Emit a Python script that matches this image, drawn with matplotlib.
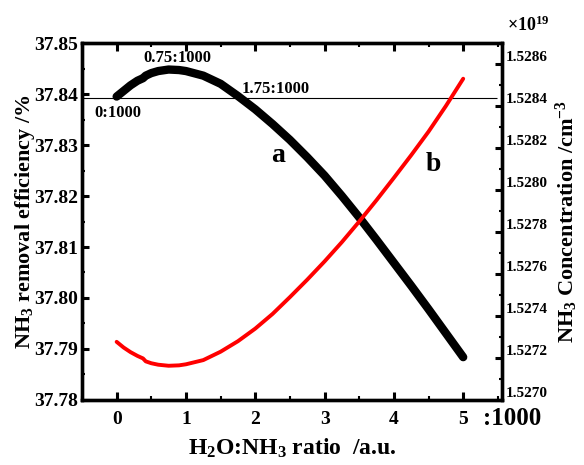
import matplotlib
matplotlib.use("Agg")
import matplotlib.pyplot as plt
from matplotlib.ticker import MultipleLocator, FormatStrFormatter
import matplotlib.transforms as mtransforms

plt.rcParams['font.family'] = ['Liberation Serif', 'DejaVu Serif']
plt.rcParams['font.weight'] = 'bold'
plt.rcParams['axes.labelweight'] = 'bold'
plt.rcParams['mathtext.default'] = 'regular'

# H2O:NH3 ratio (x 1/1000)
ratio = [0, 0.1, 0.2, 0.3, 0.38, 0.42, 0.5, 0.6, 0.75, 0.9, 1.0, 1.25, 1.5, 1.75,
         2.0, 2.25, 2.5, 2.75, 3.0, 3.25, 3.5, 3.75, 4.0, 4.25, 4.5, 4.75, 5.0]
# a: NH3 removal efficiency /%
efficiency = [37.8395, 37.8406, 37.8417, 37.8426, 37.8431, 37.8436, 37.8441, 37.8445,
              37.8448, 37.8447, 37.8445, 37.8436, 37.8420, 37.8396,
              37.8370, 37.8341, 37.8310, 37.8276, 37.8240, 37.8200, 37.8158,
              37.8114, 37.8069, 37.8024, 37.7978, 37.7931, 37.7884]
# b: NH3 concentration /cm^-3 (x 1e19)
concentration = [1.527277, 1.527250, 1.527228, 1.527210, 1.527198, 1.527184, 1.527175, 1.527168,
                 1.527163, 1.527165, 1.527170, 1.527190, 1.527230, 1.527280,
                 1.527340, 1.527410, 1.527490, 1.527573, 1.527660, 1.527752, 1.527850,
                 1.527952, 1.528058, 1.528166, 1.528278, 1.528400, 1.528530]

ref_efficiency = 37.8392
ref_line_end = 5.49

fig = plt.figure(figsize=(5.84, 4.65), dpi=100)
ax = fig.add_axes([0.1404, 0.1398, 0.7192, 0.7677])
ax2 = ax.twinx()

ax.plot(ratio, efficiency, color='black', lw=6, solid_capstyle='round', zorder=3)
ax.hlines(ref_efficiency, -0.5, ref_line_end, color='black', lw=0.8, zorder=2)
ax2.plot(ratio, concentration, color='#ff0000', lw=2.8, solid_capstyle='round')

ax.set_xlim(-0.5, 5.56)
ax.set_ylim(37.78, 37.85)
ax2.set_ylim(1.5270, 1.5287)

ax.xaxis.set_major_locator(MultipleLocator(1))
ax.xaxis.set_minor_locator(MultipleLocator(0.5))
ax.yaxis.set_major_locator(MultipleLocator(0.01))
ax.yaxis.set_minor_locator(MultipleLocator(0.005))
ax.yaxis.set_major_formatter(FormatStrFormatter('%.2f'))
ax2.yaxis.set_major_locator(MultipleLocator(0.0002))
ax2.yaxis.set_minor_locator(MultipleLocator(0.0001))
ax2.yaxis.set_major_formatter(FormatStrFormatter('%.4f'))

for a in (ax, ax2):
    for s in a.spines.values():
        s.set_linewidth(2.4)
ax.tick_params(axis='x', which='both', direction='in', top=True, labelsize=14, pad=8)
ax.tick_params(axis='x', which='major', length=6, width=2.2)
ax.tick_params(axis='x', which='minor', length=3, width=1.5)
ax.tick_params(axis='y', which='major', direction='in', length=5, width=2.2, labelsize=14, pad=3)
ax.tick_params(axis='y', which='minor', direction='in', length=2.5, width=1.5)
ax2.tick_params(axis='y', which='major', direction='in', length=5, width=2.2, labelsize=11, pad=3)
ax2.tick_params(axis='y', which='minor', direction='in', length=2.5, width=1.5)

fig.canvas.draw()
shift = mtransforms.ScaledTranslation(0, 6/72, fig.dpi_scale_trans)
for lab in ax2.get_yticklabels():
    lab.set_transform(lab.get_transform() + shift)

ax.set_xlabel('H$_2$O:NH$_3$ ratio  /a.u.', fontsize=17, fontweight='bold', labelpad=6)
ax.set_ylabel('NH$_3$ removal efficiency /%', fontsize=16, fontweight='bold', labelpad=-2)
ax2.set_ylabel('NH$_3$ Concentration /cm$^{-3}$', fontsize=16, fontweight='bold', labelpad=4)

ax.text(0.02, 37.8362, '0:1000', fontsize=12, ha='center', va='center')
ax.text(0.88, 37.8470, '0.75:1000', fontsize=12, ha='center', va='center')
ax.text(2.30, 37.8410, '1.75:1000', fontsize=12, ha='center', va='center')
ax.text(2.33, 37.8280, 'a', fontsize=20, ha='center', va='center')
ax.text(4.57, 37.8262, 'b', fontsize=20, ha='center', va='center')
fig.text(0.877, 0.101, ':1000', fontsize=18, ha='center', va='center')
fig.text(0.905, 0.945, r'$\times$10$^{19}$', fontsize=13, ha='center', va='center')

fig.savefig('out.png', dpi=100)
